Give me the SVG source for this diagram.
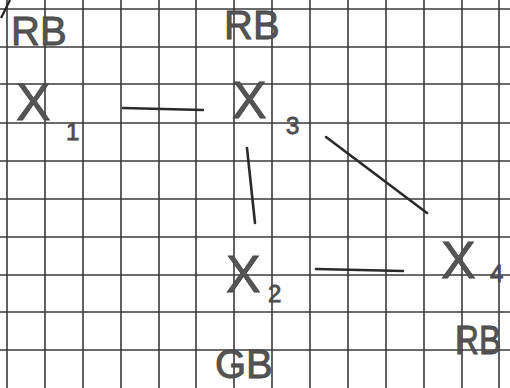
<svg xmlns="http://www.w3.org/2000/svg" width="510" height="388" viewBox="0 0 510 388">
<style>
.grid line{stroke:#3a3a3a;stroke-width:1.6}
.hw{font-family:"Liberation Sans","DejaVu Sans",sans-serif;fill:#555;stroke:#444;stroke-width:0.8}
.big{font-size:52px}
.sub{font-size:24px}
.lab{font-size:40px}
.conn line{stroke:#2a2a2a;stroke-width:2.6;stroke-linecap:round}
</style>
<rect width="510" height="388" fill="#ffffff"/>
<g class="grid">
<line x1="7" y1="0" x2="7" y2="388"/><line x1="45" y1="0" x2="45" y2="388"/><line x1="83" y1="0" x2="83" y2="388"/><line x1="121" y1="0" x2="121" y2="388"/><line x1="159" y1="0" x2="159" y2="388"/><line x1="196" y1="0" x2="196" y2="388"/><line x1="234" y1="0" x2="234" y2="388"/><line x1="272" y1="0" x2="272" y2="388"/><line x1="310" y1="0" x2="310" y2="388"/><line x1="348" y1="0" x2="348" y2="388"/><line x1="386" y1="0" x2="386" y2="388"/><line x1="424" y1="0" x2="424" y2="388"/><line x1="462" y1="0" x2="462" y2="388"/><line x1="499" y1="0" x2="499" y2="388"/>
<line x1="0" y1="9" x2="510" y2="9"/><line x1="0" y1="47" x2="510" y2="47"/><line x1="0" y1="84" x2="510" y2="84"/><line x1="0" y1="123" x2="510" y2="123"/><line x1="0" y1="161" x2="510" y2="161"/><line x1="0" y1="199" x2="510" y2="199"/><line x1="0" y1="237" x2="510" y2="237"/><line x1="0" y1="275" x2="510" y2="275"/><line x1="0" y1="312" x2="510" y2="312"/><line x1="0" y1="350" x2="510" y2="350"/>
</g>
<path d="M1 18 L10 0" stroke="#222" stroke-width="2.2" fill="none"/>
<g class="conn">
<line x1="123" y1="108" x2="203" y2="110"/>
<line x1="247" y1="148" x2="255" y2="223"/>
<line x1="326" y1="137" x2="427" y2="213"/>
<line x1="316" y1="269" x2="403" y2="271"/>
</g>
<g id="x1"><text class="hw big" x="16" y="120">X</text><text class="hw sub" x="66" y="140">1</text></g>
<g id="x3"><text class="hw big" x="232" y="118">X</text><text class="hw sub" x="286" y="134">3</text></g>
<g id="x2"><text class="hw big" x="226" y="292">X</text><text class="hw sub" x="268" y="302">2</text></g>
<g id="x4"><text class="hw big" x="441" y="278">X</text><text class="hw sub" x="490" y="282">4</text></g>
<g id="label-rb-x1"><text class="hw lab" x="11" y="45">RB</text></g>
<g id="label-rb-x3"><text class="hw lab" x="224" y="39">RB</text></g>
<g id="label-rb-x4"><text class="hw lab" x="455" y="354" textLength="46" lengthAdjust="spacingAndGlyphs">RB</text></g>
<g id="label-gb-x2"><text class="hw lab" x="215" y="378">GB</text></g>
</svg>
